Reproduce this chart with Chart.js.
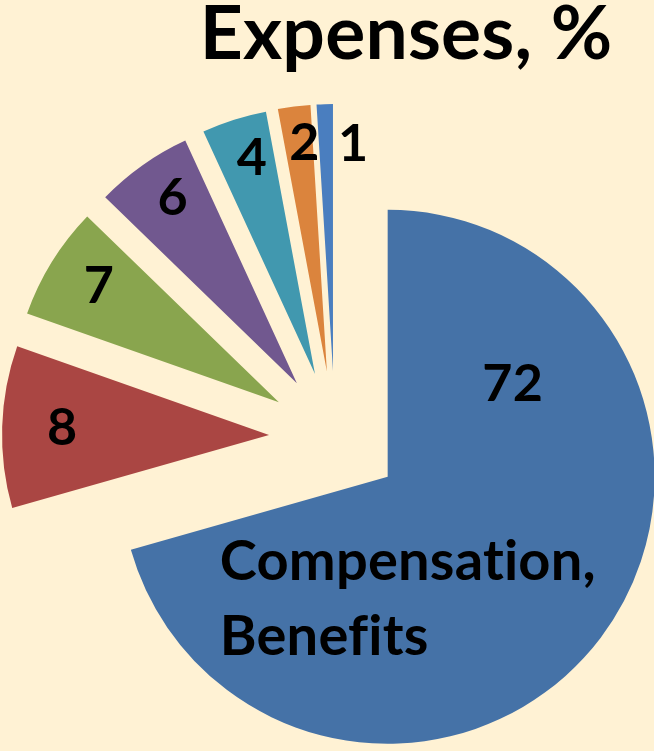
<!DOCTYPE html>
<html>
<head>
<meta charset="utf-8">
<title>Expenses, %</title>
<script src="https://cdn.jsdelivr.net/npm/chart.js@4.4.1/dist/chart.umd.min.js"></script>
<style>
  html, body { margin: 0; padding: 0; background: #FFF2D4; }
  #wrap { position: relative; width: 654px; height: 751px; overflow: hidden; }
  canvas { font-variant-ligatures: none; }
</style>
</head>
<body>
<div id="wrap"><canvas id="pie"></canvas></div>
<script>
// — data —
const categories    = ['Compensation, Benefits', '', '', '', '', '', ''];
const shares        = [72, 10, 7, 6, 4, 2, 1];          // slice sizes as drawn in the picture
const printedLabels = ['72', '8', '7', '6', '4', '2', '1']; // numbers printed on the slices
const sliceColors   = ['#4572A7', '#AA4643', '#89A54E', '#71588F', '#4198AF', '#DB843D', '#4A7EBF'];
const titleText     = 'Expenses, %';

const FONT    = 'Lato, "Open Sans", sans-serif';
const RADIUS  = 267;
const EXPLODE = 66;   // every slice pulled out this far (px)

// where each number sits: turn from the slice middle (deg), share of the radius
const labelSpots = [
  { turn: -74, r: 0.586 },
  { turn: 0.7, r: 0.775 },
  { turn: 1.4, r: 0.805 },
  { turn: 1.7, r: 0.84 },
  { turn: 1.5, r: 0.85 },
  { turn: 1.5, r: 0.865 },
  { turn: 6.8, r: 0.86 }
];
const nameSpot = { turn: 43.5, r: 0.46 };

// — pull every slice out along its own middle —
const explodePlugin = {
  id: 'explode',
  afterDatasetUpdate(chart, args) {
    args.meta.data.forEach(arc => {
      const mid = (arc.startAngle + arc.endAngle) / 2;
      arc.x += Math.cos(mid) * EXPLODE;
      arc.y += Math.sin(mid) * EXPLODE;
    });
  }
};

function spotOf(arc, spot) {
  const a = (arc.startAngle + arc.endAngle) / 2 + spot.turn * Math.PI / 180;
  const d = arc.outerRadius * spot.r;
  return { x: arc.x + Math.cos(a) * d, y: arc.y + Math.sin(a) * d };
}

// — numbers, slice name and title —
const textPlugin = {
  id: 'pieText',
  afterDraw(chart) {
    const ctx  = chart.ctx;
    const arcs = chart.getDatasetMeta(0).data;
    ctx.save();
    ctx.fillStyle = '#000';
    ctx.textBaseline = 'alphabetic';
    ctx.textRendering = 'optimizeSpeed';   // no "ti" ligature
    ctx.letterSpacing = '0.2px';

    ctx.font = `bold 52px ${FONT}`;
    ctx.textAlign = 'center';
    arcs.forEach((arc, i) => {
      const p = spotOf(arc, labelSpots[i]);
      const m = ctx.measureText(printedLabels[i]);
      const h = m.actualBoundingBoxAscent - m.actualBoundingBoxDescent;
      ctx.fillText(printedLabels[i], p.x, p.y + h / 2);
    });

    // category name inside the big slice, left aligned on two lines
    const lines = categories[0].replace(', ', ',\n').split('\n');
    ctx.font = `bold 56px ${FONT}`;
    ctx.textAlign = 'left';
    const lineGap = 75;
    const capH = ctx.measureText('C').actualBoundingBoxAscent;
    const w = Math.max(...lines.map(t => ctx.measureText(t).width));
    const c = spotOf(arcs[0], nameSpot);
    const x0 = c.x - w / 2;
    let y = c.y - (capH + lineGap * (lines.length - 1)) / 2 + capH;
    lines.forEach(t => { ctx.fillText(t, x0, y); y += lineGap; });

    // title
    ctx.font = `bold 75px ${FONT}`;
    ctx.textAlign = 'center';
    ctx.fillText(titleText, 406, 59);
    ctx.restore();
  }
};

const pieChart = new Chart(document.getElementById('pie'), {
  type: 'pie',
  data: {
    labels: categories,
    datasets: [{
      data: shares,
      backgroundColor: sliceColors,
      borderWidth: 0,
      hoverOffset: 0,
      clip: false
    }]
  },
  options: {
    responsive: true,
    maintainAspectRatio: false,
    animation: false,
    events: [],
    radius: RADIUS,
    layout: { padding: { left: 16, right: 0, top: 123, bottom: 0 } },
    plugins: {
      legend: { display: false },
      tooltip: { enabled: false },
      title: { display: false }
    }
  },
  plugins: [explodePlugin, textPlugin]
});
</script>
</body>
</html>
